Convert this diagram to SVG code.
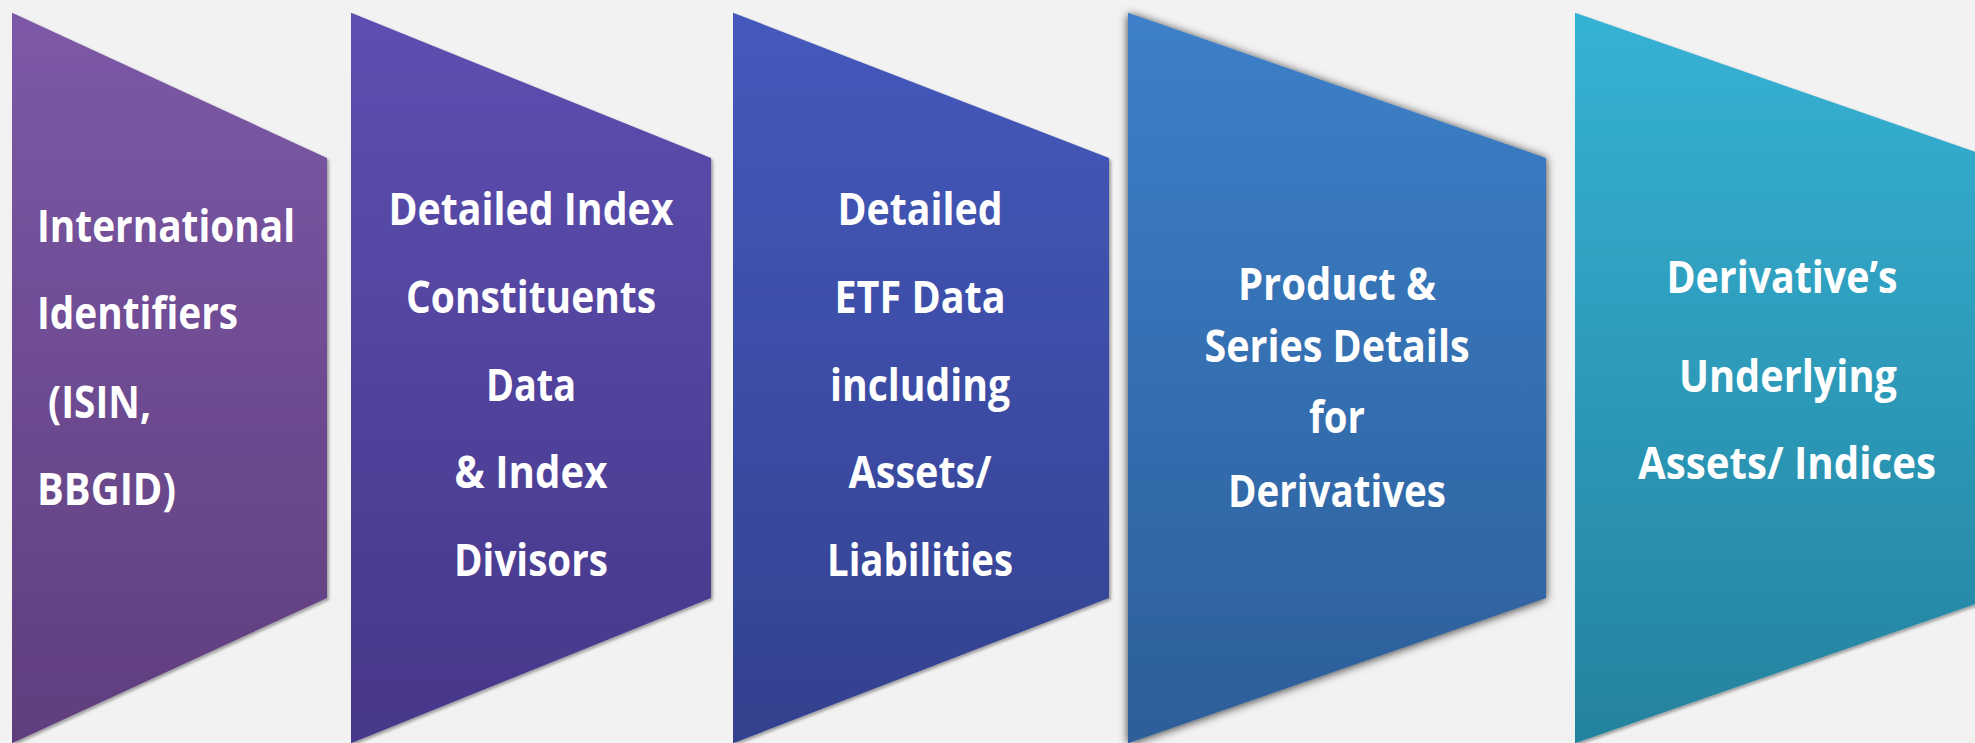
<svg xmlns="http://www.w3.org/2000/svg" width="1975" height="743" viewBox="0 0 1975 743">
<style>
  .lbl { font-family: "Open Sans", "Liberation Sans", sans-serif; font-weight: 700; font-size: 45px; fill: #FFFFFF; }
  .c { text-anchor: middle; }
</style>
<defs>
  <linearGradient id="g1" x1="0" y1="0" x2="0" y2="1"><stop offset="0" stop-color="#7C59A7"/><stop offset="1" stop-color="#5F3E7D"/></linearGradient>
  <linearGradient id="g2" x1="0" y1="0" x2="0" y2="1"><stop offset="0" stop-color="#5D4FB1"/><stop offset="1" stop-color="#463789"/></linearGradient>
  <linearGradient id="g3" x1="0" y1="0" x2="0" y2="1"><stop offset="0" stop-color="#4559BD"/><stop offset="1" stop-color="#33418E"/></linearGradient>
  <linearGradient id="g4" x1="0" y1="0" x2="0" y2="1"><stop offset="0" stop-color="#3C80C9"/><stop offset="1" stop-color="#2D5E99"/></linearGradient>
  <linearGradient id="g5" x1="0" y1="0" x2="0" y2="1"><stop offset="0" stop-color="#36B2D5"/><stop offset="1" stop-color="#24829E"/></linearGradient>
  <filter id="sh" x="-10%" y="-10%" width="120%" height="120%">
    <feDropShadow dx="2" dy="2" stdDeviation="1.8" flood-color="#000" flood-opacity="0.35"/>
  </filter>
  <filter id="shBig" x="-10%" y="-10%" width="120%" height="120%">
    <feDropShadow dx="0" dy="1" stdDeviation="5" flood-color="#000" flood-opacity="0.8"/>
  </filter>
</defs>
<rect x="0" y="0" width="1975" height="743" fill="#F2F2F2"/>
<g id="connectors"/>
<g id="node1">
  <polygon points="12,12.7 327,158 327,598 12,743.3" fill="url(#g1)" filter="url(#sh)"/>
  <text class="lbl" x="37" y="242" textLength="258" lengthAdjust="spacingAndGlyphs">International</text>
  <text class="lbl" x="37" y="329" textLength="201" lengthAdjust="spacingAndGlyphs">Identifiers</text>
  <text class="lbl" x="48" y="418" textLength="103" lengthAdjust="spacingAndGlyphs">(ISIN,</text>
  <text class="lbl" x="37" y="505" textLength="139" lengthAdjust="spacingAndGlyphs">BBGID)</text>
</g>
<g id="node2">
  <polygon points="351,12.7 711,158 711,598 351,743.3" fill="url(#g2)" filter="url(#sh)"/>
  <text class="lbl c" x="531" y="225" textLength="285" lengthAdjust="spacingAndGlyphs">Detailed Index</text>
  <text class="lbl c" x="531" y="313" textLength="250" lengthAdjust="spacingAndGlyphs">Constituents</text>
  <text class="lbl c" x="531" y="401" textLength="90" lengthAdjust="spacingAndGlyphs">Data</text>
  <text class="lbl c" x="531" y="488" textLength="153" lengthAdjust="spacingAndGlyphs">&amp; Index</text>
  <text class="lbl c" x="531" y="576" textLength="154" lengthAdjust="spacingAndGlyphs">Divisors</text>
</g>
<g id="node3">
  <polygon points="733,12.7 1109,158 1109,598 733,743.3" fill="url(#g3)" filter="url(#sh)"/>
  <text class="lbl c" x="920" y="225" textLength="165" lengthAdjust="spacingAndGlyphs">Detailed</text>
  <text class="lbl c" x="920" y="313" textLength="171" lengthAdjust="spacingAndGlyphs">ETF Data</text>
  <text class="lbl c" x="920" y="401" textLength="180" lengthAdjust="spacingAndGlyphs">including</text>
  <text class="lbl c" x="920" y="488" textLength="143" lengthAdjust="spacingAndGlyphs">Assets/</text>
  <text class="lbl c" x="920" y="576" textLength="186" lengthAdjust="spacingAndGlyphs">Liabilities</text>
</g>
<g id="node4">
  <polygon points="1128,12.7 1546,158 1546,598 1128,743.3" fill="url(#g4)" filter="url(#shBig)"/>
  <text class="lbl c" x="1337" y="300" textLength="198" lengthAdjust="spacingAndGlyphs">Product &amp;</text>
  <text class="lbl c" x="1337" y="362" textLength="265" lengthAdjust="spacingAndGlyphs">Series Details</text>
  <text class="lbl c" x="1337" y="433" textLength="56" lengthAdjust="spacingAndGlyphs">for</text>
  <text class="lbl c" x="1337" y="507" textLength="218" lengthAdjust="spacingAndGlyphs">Derivatives</text>
</g>
<g id="node5">
  <polygon points="1575,12.7 1993,158 1993,598 1575,743.3" fill="url(#g5)" filter="url(#sh)"/>
  <text class="lbl c" x="1782" y="293" textLength="231" lengthAdjust="spacingAndGlyphs">Derivative’s</text>
  <text class="lbl c" x="1788" y="392" textLength="218" lengthAdjust="spacingAndGlyphs">Underlying</text>
  <text class="lbl c" x="1787" y="479" textLength="298" lengthAdjust="spacingAndGlyphs">Assets/ Indices</text>
</g>
</svg>
